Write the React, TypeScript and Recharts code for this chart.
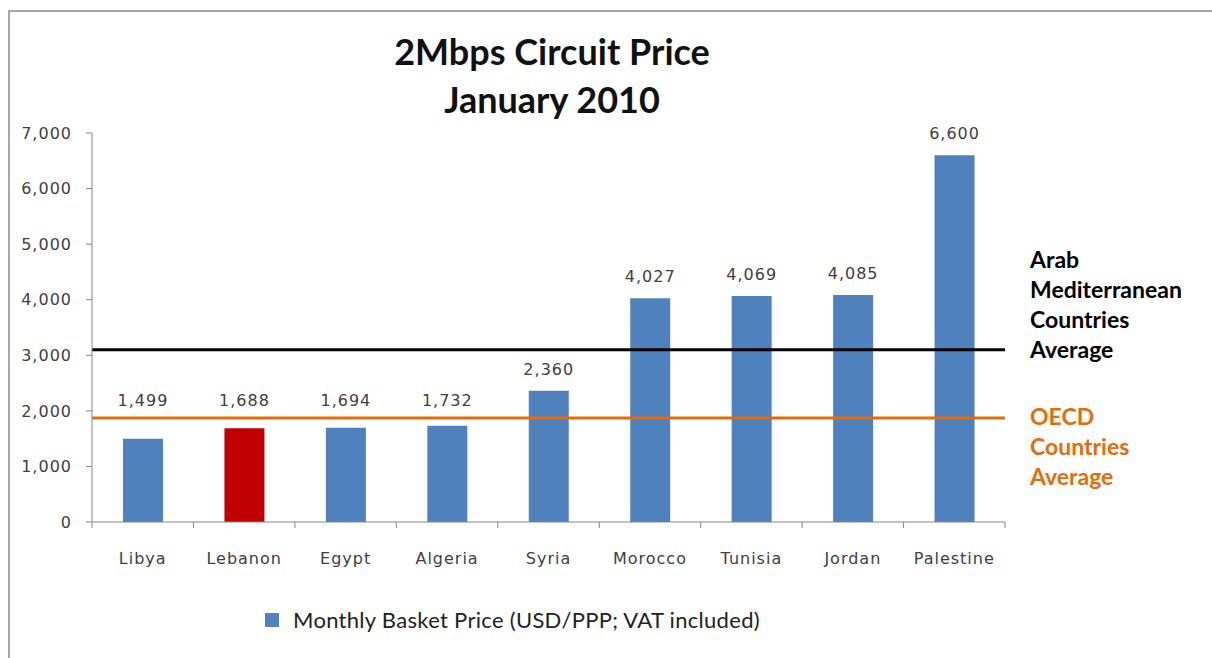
import React from "react";
import {
  ComposedChart,
  Bar,
  Cell,
  XAxis,
  YAxis,
  ReferenceLine,
  LabelList,
} from "recharts";

const categories = ["Libya", "Lebanon", "Egypt", "Algeria", "Syria", "Morocco", "Tunisia", "Jordan", "Palestine"];
const prices = [1499, 1688, 1694, 1732, 2360, 4027, 4069, 4085, 6600];
const highlighted = "Lebanon";
const yTicks = [0, 1000, 2000, 3000, 4000, 5000, 6000, 7000];
const arabAverage = 3100;
const oecdAverage = 1870;
const arabLabel = ["Arab", "Mediterranean", "Countries", "Average"];
const oecdLabel = ["OECD", "Countries", "Average"];
const seriesName = "Monthly Basket Price (USD/PPP; VAT included)";

const data = categories.map((c, i) => ({ country: c, price: prices[i] }));

const BLUE = "#4F81BD";
const RED = "#C00000";
const ORANGE = "#E46C0A";
const AXIS = "#868686";
const tickFont = { fontSize: 16, fill: "#404040", fontFamily: "DejaVu Sans", letterSpacing: 1 };
const calibri = "Lato, 'Open Sans', sans-serif";

const fmt = (v: number) => v.toLocaleString("en-US");

// categories span 92..1005
const BAND = (1005 - 92) / categories.length;

function CategoryTick(props: any) {
  const { x, y, payload, index } = props;
  const last = index === categories.length - 1;
  return (
    <g>
      <line x1={x - BAND / 2} x2={x - BAND / 2} y1={y} y2={y + 6} stroke={AXIS} />
      {last && <line x1={x + BAND / 2} x2={x + BAND / 2} y1={y} y2={y + 6} stroke={AXIS} />}
      <text x={x} y={y + 42} textAnchor="middle" {...tickFont}>
        {payload.value}
      </text>
    </g>
  );
}

function PriceLabel(props: any) {
  const { x, y, width, height, value } = props;
  const base = y + height;
  const oecdY = base - (height * oecdAverage) / value;
  const ty = Math.min(y - 16, oecdY - 12);
  return (
    <text x={x + width / 2} y={ty} textAnchor="middle" {...tickFont}>
      {fmt(value)}
    </text>
  );
}

function SideLabel(lines: string[], color: string, firstDy: number) {
  return (props: any) => {
    const vb = props.viewBox || {};
    const lx = (vb.x || 0) + (vb.width || 0) + 25;
    const ly = vb.y || 0;
    return (
      <text x={lx} y={ly + firstDy} fill={color} fontFamily={calibri} fontWeight={700} fontSize={23}>
        {lines.map((l, i) => (
          <tspan key={l} x={lx} dy={i === 0 ? 0 : 30}>
            {l}
          </tspan>
        ))}
      </text>
    );
  };
}

export default function App() {
  return (
    <div style={{ position: "fixed", left: 0, top: 0, width: 1212, height: 658, background: "#fff", overflow: "hidden" }}>
      <div
        style={{
          position: "absolute",
          left: 8,
          top: 10,
          width: 1210,
          height: 660,
          borderTop: "2px solid #a6a6a6",
          borderLeft: "2px solid #a6a6a6",
        }}
      />
      <div
        style={{
          position: "absolute",
          left: 302,
          width: 500,
          top: 27,
          textAlign: "center",
          fontFamily: calibri,
          fontWeight: 700,
          fontSize: 36,
          lineHeight: "48px",
          color: "#111",
        }}
      >
        <div>2Mbps Circuit Price</div>
        <div>January 2010</div>
      </div>
      <ComposedChart
        width={1212}
        height={658}
        data={data}
        margin={{ top: 133, right: 207, left: 32, bottom: 86 }}
        style={{ position: "absolute", left: 0, top: 0 }}
      >
        <XAxis
          dataKey="country"
          height={50}
          stroke={AXIS}
          tickLine={false}
          tickSize={0}
          tickMargin={0}
          tick={<CategoryTick />}
          interval={0}
        />
        <YAxis
          width={60}
          domain={[0, 7000]}
          ticks={yTicks}
          stroke={AXIS}
          tickSize={6}
          tickMargin={14}
          tick={tickFont}
          tickFormatter={fmt}
          interval={0}
        />
        <Bar dataKey="price" name={seriesName} barSize={40} isAnimationActive={false}>
          {data.map((d) => (
            <Cell key={d.country} fill={d.country === highlighted ? RED : BLUE} />
          ))}
          <LabelList dataKey="price" content={<PriceLabel />} />
        </Bar>
        <ReferenceLine y={arabAverage} stroke="#000" strokeWidth={3} label={SideLabel(arabLabel, "#000", -82)} />
        <ReferenceLine y={oecdAverage} stroke={ORANGE} strokeWidth={3} label={SideLabel(oecdLabel, ORANGE, 7)} />
      </ComposedChart>
      <div
        style={{
          position: "absolute",
          left: 265,
          top: 606,
          display: "flex",
          alignItems: "center",
          fontFamily: calibri,
          fontSize: 22,
          letterSpacing: 0.3,
          color: "#222",
          whiteSpace: "nowrap",
        }}
      >
        <span style={{ width: 14, height: 14, background: BLUE, display: "inline-block", marginRight: 14 }} />
        <span>{seriesName}</span>
      </div>
    </div>
  );
}
